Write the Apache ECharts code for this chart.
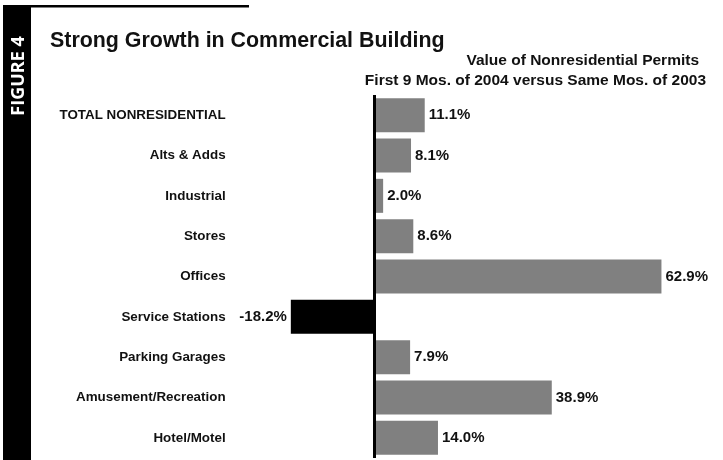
<!DOCTYPE html>
<html>
<head>
<meta charset="UTF-8">
<title>figure 4</title>
<script src="https://cdn.jsdelivr.net/npm/echarts@6/dist/echarts.min.js"></script>
<style>
	html, body { margin:0; padding:0; background:#fff; }
	#chart-div { width:723px; height:460px; }
</style>
</head>
<body>
	<div id="chart-div"></div>

	<script type="text/javascript">
		var categories = ['TOTAL NONRESIDENTIAL', 'Alts & Adds', 'Industrial', 'Stores', 'Offices',
			'Service Stations', 'Parking Garages', 'Amusement/Recreation', 'Hotel/Motel'];
		var changes = [11.1, 8.1, 2.0, 8.6, 62.9, -18.2, 7.9, 38.9, 14.0];

		window.onload = drawChart;

		function drawChart(){
			var myChart = echarts.init(document.getElementById('chart-div'));
			var font = 'Arial, "Liberation Sans", Helvetica, sans-serif';

			var barData = [];
			for(var i=0; i<changes.length; i++){
				var neg = changes[i] < 0;
				barData.push({
					value: changes[i],
					itemStyle: { color: neg ? '#000000' : '#808080' },
					label: { position: neg ? 'left' : 'right' }
				});
			}

			var option = {
				backgroundColor: '#ffffff',
				animation: false,
				title: [
					{
						text: 'Strong Growth in Commercial Building',
						left: 45, top: 26,
						textStyle: { fontFamily: font, fontSize: 21.4, fontWeight: 'bold', color: '#111' }
					},
					{
						text: 'Value of Nonresidential Permits',
						right: 19, top: 48,
						textStyle: { fontFamily: font, fontSize: 15.5, fontWeight: 'bold', color: '#111' }
					},
					{
						text: 'First 9 Mos. of 2004 versus Same Mos. of 2003',
						right: 12, top: 68,
						textStyle: { fontFamily: font, fontSize: 15.5, fontWeight: 'bold', color: '#111' }
					}
				],
				graphic: [
					{ type: 'rect', shape: { x: 3, y: 5, width: 28, height: 460 }, style: { fill: '#000' } },
					{ type: 'rect', shape: { x: 31, y: 5, width: 218, height: 2.5 }, style: { fill: '#000' } },
					{
						type: 'text', x: 19, y: 76, rotation: Math.PI / 2,
						style: {
							text: 'FIGURE 4', fill: '#fff', align: 'center', verticalAlign: 'middle',
							font: 'bold 18px "Open Sans", "Liberation Sans", sans-serif'
						}
					}
				],
				grid: { left: 282.6, right: 29.1, top: 95, height: 363 },
				xAxis: {
					type: 'value', min: -20, max: 70,
					show: false
				},
				yAxis: {
					type: 'category',
					data: categories,
					inverse: true,
					axisLine: { show: false },
					axisTick: { show: false },
					axisLabel: {
						margin: 57,
						fontFamily: font, fontSize: 13.4, fontWeight: 'bold', color: '#111'
					}
				},
				series: [{
					type: 'bar',
					data: barData,
					barWidth: 34,
					label: {
						show: true,
						distance: 4,
						fontFamily: font, fontSize: 15, fontWeight: 'bold', color: '#111',
						formatter: function(p){ return p.value.toFixed(1) + '%'; }
					},
					markLine: {
						silent: true,
						symbol: 'none',
						label: { show: false },
						lineStyle: { color: '#000', width: 3, type: 'solid' },
						data: [{ xAxis: 0 }]
					}
				}]
			};

			myChart.setOption(option);
		}
	</script>
</body>
</html>
